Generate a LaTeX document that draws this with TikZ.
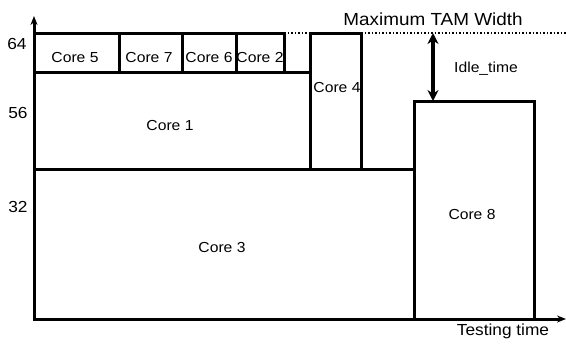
\documentclass[tikz,border=0pt]{standalone}
\usepackage{fontspec}
\setmainfont{Liberation Sans}[FakeStretch=1.08]
\usetikzlibrary{arrows.meta}

\begin{document}
\begin{tikzpicture}[x=1pt, y=-1pt, line join=miter,
    corebox/.style={draw, line width=3pt},
    corelabel/.style={font=\fontsize{14.5}{16}\selectfont, inner sep=0pt},
    axislabel/.style={font=\fontsize{16}{18}\selectfont, inner sep=0pt}]
    \useasboundingbox (0,0) rectangle (566,349);

    % axes
    \coordinate (O) at (34,319);
    \coordinate (Ytop) at (34,16);
    \coordinate (Xend) at (566,319);
    \draw[line width=3pt, -{Stealth[length=9pt,width=7pt]}] (O) -- (Ytop);
    \draw[line width=3pt, -{Stealth[length=9pt,width=7pt]}] (O) -- (Xend);

    % cores (width = TAM wires, length = testing time)
    \draw[corebox] (34,169) rectangle (414,319);  % Core 3
    \draw[corebox] (34,72) rectangle (310,169);   % Core 1
    \draw[corebox] (310,33) rectangle (361,169);  % Core 4
    \draw[corebox] (414,101) rectangle (534,319); % Core 8
    \draw[corebox] (34,33) rectangle (119,72);    % Core 5
    \draw[corebox] (119,33) rectangle (182,72);   % Core 7
    \draw[corebox] (182,33) rectangle (236,72);   % Core 6
    \draw[corebox] (236,33) rectangle (284,72);   % Core 2

    \node[corelabel] (c3) at (222,248) {Core 3};
    \node[corelabel] (c1) at (170,126) {Core 1};
    \node[corelabel] (c4) at (337,88) {Core 4};
    \node[corelabel] (c8) at (472,215) {Core 8};
    \node[corelabel] (c5) at (75,58) {Core 5};
    \node[corelabel] (c7) at (149,58) {Core 7};
    \node[corelabel] (c6) at (209,58) {Core 6};
    \node[corelabel] (c2) at (260,58) {Core 2};

    % maximum width and idle time
    \coordinate (TAMa) at (284,33);
    \coordinate (TAMb) at (566,33);
    \draw[line width=1.5pt, dotted] (TAMa) -- (TAMb);
    \node[axislabel, font=\fontsize{17.5}{19}\selectfont] (tam) at (433,19) {Maximum TAM Width};
    \coordinate (idleA) at (433,33);
    \coordinate (idleB) at (433,101);
    \draw[line width=3.2pt, {Stealth[length=11pt,width=11pt]}-{Stealth[length=11pt,width=11pt]}] (idleA) -- (idleB);
    \node[corelabel] (idle) at (486,69) {Idle\_time};

    % tick labels
    \node[axislabel] (y64) at (17,44) {64};
    \node[axislabel] (y56) at (18,113) {56};
    \node[axislabel] (y32) at (18,207) {32};
    \node[axislabel] (xlab) at (503,331) {Testing time};
\end{tikzpicture}
\end{document}
